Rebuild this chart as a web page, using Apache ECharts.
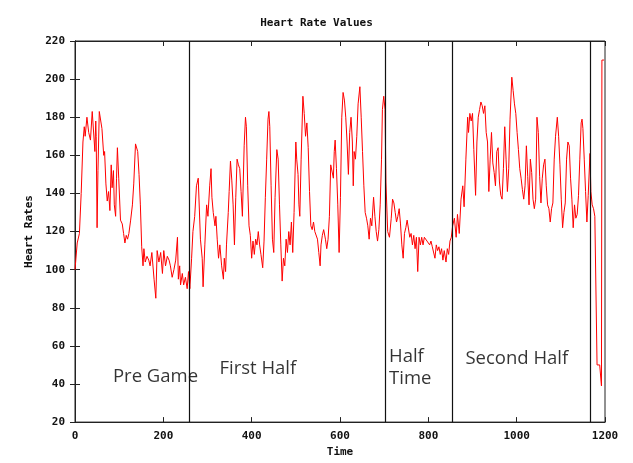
<!DOCTYPE html>
<html>
<head>
<meta charset="utf-8">
<script src="https://cdn.jsdelivr.net/npm/echarts@6/dist/echarts.min.js"></script>
<style>
html,body{margin:0;padding:0;background:#fff;}
#chart{width:633px;height:463px;}
</style>
</head>
<body>
<div id="chart"></div>
<script>
const chartTitle = 'Heart Rate Values';
const xAxisName = 'Time';
const yAxisName = 'Heart Rates';
const xMin = 0, xMax = 1200, xStep = 200;
const yMin = 20, yMax = 220, yStep = 20;

const times = [
0,5,10,14,18,21,23,27,31,35,39,42,45,47,48,50,52,55,57,61,65,67,70,73,76,79,82,84,87,89,92,94,96,99,
103,107,110,113,116,119,122,126,130,133,137,139,142,145,148,151,154,156,159,163,167,170,174,179,183,186,
190,194,198,201,205,209,213,216,220,224,228,232,234,237,239,243,246,250,254,257,260,
264,267,271,275,279,281,284,288,290,294,298,301,305,308,310,313,317,319,322,325,328,332,336,338,341,343,
347,349,352,355,358,361,364,367,370,373,376,379,383,386,388,391,394,397,400,403,406,409,412,415,418,421,
425,428,431,434,437,439,441,444,447,450,453,457,460,463,466,469,472,475,478,481,484,487,490,493,496,500,
502,505,507,509,512,516,519,522,525,528,531,534,537,540,543,546,549,552,555,557,560,563,567,570,573,576,
579,582,585,587,589,592,595,598,601,604,607,610,613,616,619,622,625,628,630,632,635,638,641,645,648,651,
654,657,660,663,666,669,672,676,679,682,685,688,691,694,696,699,702,704,708,712,716,719,722,725,728,731,
734,737,740,743,746,749,752,755,758,761,764,767,770,773,776,779,782,785,788,791,794,797,800,803,806,809,
812,815,818,821,824,827,830,833,836,840,843,846,849,852,855,859,863,866,870,874,878,881,885,889,891,894,
897,900,903,907,910,913,916,919,922,925,928,931,934,937,940,943,946,949,952,955,958,961,964,967,970,973,
976,979,982,985,989,992,995,998,1001,1004,1007,1010,1013,1016,1019,1022,1025,1028,1031,1034,1037,1040,
1043,1046,1049,1052,1055,1058,1061,1064,1067,1070,1073,1076,1079,1082,1085,1088,1092,1095,1098,1101,1104,
1107,1110,1113,1116,1119,1122,1125,1128,1131,1134,1137,1140,1143,1146,1148,1150,1153,1156,1159,1162,1166,
1168,1171,1174,1177,1181,1182,1188,1192,1193,1198
];
const heartRates = [
100,114,119,140,167,175,170,180,172,168,183,183,162,178,170,122,152,183,184,174,160,162,145,136,141,131,155,143,152,134,128,148,164,148,
126,124,119,114,118,116,119,126,134,145,166,166,162,150,134,112,102,111,104,107,105,102,109,95,85,110,
104,109,98,110,102,107,105,102,96,100,105,117,95,102,92,98,92,96,90,99,90,
106,120,128,144,148,148,116,106,91,113,134,128,144,153,138,130,123,128,116,106,113,102,95,106,99,113,
130,141,157,147,134,113,138,158,155,153,141,128,165,180,175,144,123,118,106,115,108,116,113,120,113,108,
101,115,138,158,179,183,175,144,116,109,138,163,158,134,113,94,106,102,116,109,120,113,125,109,130,167,
158,150,134,128,158,191,182,170,177,164,141,123,121,125,120,121,116,109,102,113,118,121,116,111,116,128,
155,156,148,162,168,153,134,109,138,180,193,189,180,167,150,172,180,167,144,162,158,170,187,196,180,162,
144,130,127,123,116,127,123,138,128,120,115,121,134,158,184,191,184,146,120,117,127,137,135,130,125,128,
132,124,113,106,119,122,126,127,117,119,113,118,111,117,99,117,113,117,113,117,116,115,114,113,115,112,
113,106,113,110,112,108,111,105,110,104,111,108,115,117,123,127,117,129,119,137,144,133,158,180,172,182,
178,182,163,139,167,180,184,188,186,182,186,172,167,141,158,172,156,151,144,162,164,146,139,137,153,175,
158,141,153,179,201,194,187,182,172,163,153,148,142,137,144,165,149,134,158,151,137,132,
137,180,172,149,135,148,155,158,144,134,132,125,132,135,158,170,180,170,155,137,122,
130,135,158,167,165,148,137,122,134,127,129,139,158,177,179,174,158,141,125,139,161,
141,134,132,128,127,50,50,39,210,210
];
const dividerTimes = [258, 702, 855, 1166];
const phaseNames = ['Pre Game', 'First Half', 'Half\nTime', 'Second Half'];
const phaseTimes = [86, 327, 711, 884];
const phaseRates = [44, 48, 48.5, 53.5];

const series = times.map((t, i) => [t, heartRates[i]]);
const phaseData = phaseNames.map((n, i) => ({ value: [phaseTimes[i], phaseRates[i]], name: n }));

const mono = 'DejaVu Sans Mono';
const axisLabelStyle = { fontFamily: mono, fontWeight: 'bold', fontSize: 11, color: '#111' };
const lineCol = '#222';

const chart = echarts.init(document.getElementById('chart'), null, { renderer: 'canvas' });
chart.setOption({
  animation: false,
  backgroundColor: '#fff',
  title: {
    text: chartTitle, left: 'center', top: 13,
    textStyle: { fontFamily: mono, fontWeight: 'bold', fontSize: 11, color: '#111' }
  },
  grid: { left: 75, right: 28, top: 41, bottom: 38, show: true, borderColor: lineCol, borderWidth: 1 },
  xAxis: [{
    type: 'value', min: xMin, max: xMax, interval: xStep,
    name: xAxisName, nameLocation: 'middle', nameGap: 24,
    nameTextStyle: axisLabelStyle,
    axisLine: { show: true, lineStyle: { color: lineCol } },
    axisTick: { show: true, inside: true, length: 5, lineStyle: { color: lineCol } },
    axisLabel: Object.assign({ margin: 9, formatter: v => String(v) }, axisLabelStyle),
    splitLine: { show: false }
  }, {
    type: 'value', position: 'top', min: xMin, max: xMax, interval: xStep,
    axisLine: { show: true, lineStyle: { color: lineCol } },
    axisTick: { show: true, inside: true, length: 5, lineStyle: { color: lineCol } },
    axisLabel: { show: false }, splitLine: { show: false }
  }],
  yAxis: [{
    type: 'value', min: yMin, max: yMax, interval: yStep,
    name: yAxisName, nameLocation: 'middle', nameGap: 40,
    nameTextStyle: axisLabelStyle,
    axisLine: { show: true, lineStyle: { color: lineCol } },
    axisTick: { show: true, inside: true, length: 5, lineStyle: { color: lineCol } },
    axisLabel: Object.assign({ margin: 10, formatter: v => String(v) }, axisLabelStyle),
    splitLine: { show: false }
  }, {
    type: 'value', position: 'right', min: yMin, max: yMax, interval: yStep,
    axisLine: { show: true, lineStyle: { color: lineCol } },
    axisTick: { show: true, inside: true, length: 5, lineStyle: { color: lineCol } },
    axisLabel: { show: false }, splitLine: { show: false }
  }],
  series: [{
    name: 'Heart Rate', type: 'line', data: series, showSymbol: false, symbol: 'none',
    lineStyle: { color: '#ff0000', width: 1 }, silent: true,
    markLine: {
      silent: true, symbol: ['none', 'none'],
      lineStyle: { color: '#111', width: 1.2, type: 'solid' },
      label: { show: false },
      data: dividerTimes.map(t => ({ xAxis: t }))
    }
  }, {
    name: 'Phases', type: 'scatter', data: phaseData, symbolSize: 0, silent: true,
    label: {
      show: true, position: 'right', distance: 0, formatter: p => p.name,
      fontFamily: 'Open Sans', fontSize: 18.5, color: '#000', lineHeight: 22, align: 'left', verticalAlign: 'middle'
    }
  }]
});
</script>
</body>
</html>
